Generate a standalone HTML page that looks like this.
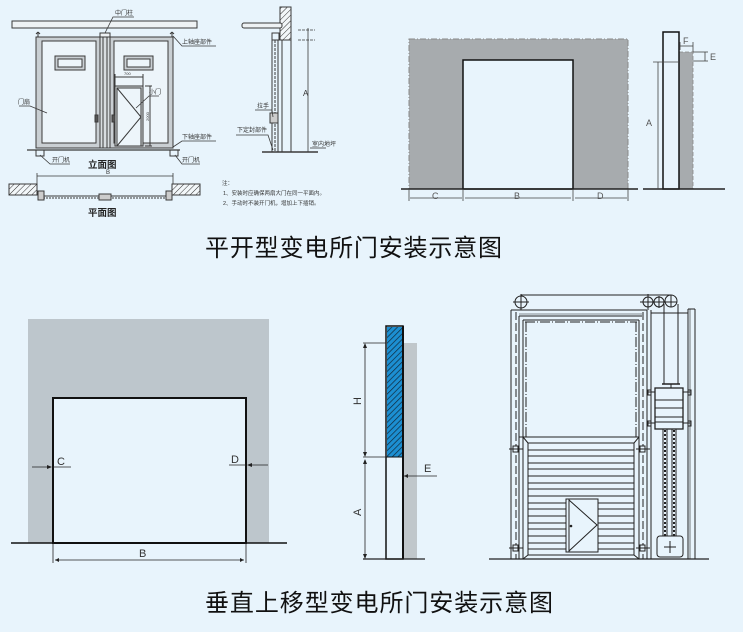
<!DOCTYPE html>
<html><head><meta charset="utf-8"><style>
html,body{margin:0;padding:0;background:#E8F4FC;}
svg{display:block;}
text{font-family:"Liberation Sans","Noto Sans CJK SC",sans-serif;}
</style></head><body>
<svg width="743" height="632" viewBox="0 0 743 632" xmlns="http://www.w3.org/2000/svg">
<defs>
<pattern id="hb" width="4" height="4" patternUnits="userSpaceOnUse" patternTransform="rotate(45)">
<rect width="4" height="4" fill="#1C8FD2"/>
<line x1="0" y1="0" x2="0" y2="4" stroke="#10283a" stroke-width="1.4"/>
</pattern>
<pattern id="hw" width="4" height="4" patternUnits="userSpaceOnUse" patternTransform="rotate(45)">
<rect width="4" height="4" fill="#f3f7f9"/>
<line x1="0" y1="0" x2="0" y2="4" stroke="#333" stroke-width="1"/>
</pattern>
</defs>
<rect width="743" height="632" fill="#E8F4FC"/>

<!-- ============ TOP LEFT: elevation ============ -->
<g stroke="#3a3a3a" stroke-width="1" fill="none">
<rect x="12" y="21" width="185" height="7" fill="#eef2f4"/>
<!-- left door -->
<rect x="36" y="37" width="64" height="111" fill="#c9cfd3"/>
<rect x="42" y="41" width="54" height="102" fill="#EDF5FA"/>
<rect x="95" y="115" width="3" height="7" fill="#555"/>
<line x1="38" y1="32" x2="38" y2="37"/><line x1="36" y1="34" x2="38" y2="32"/><line x1="40" y1="34" x2="38" y2="32"/>
<!-- central post -->
<rect x="100" y="33" width="10" height="4" fill="#eef2f4"/>
<rect x="100" y="37" width="10" height="111" fill="#d8dde0"/>
<line x1="103" y1="37" x2="103" y2="148"/><line x1="107" y1="37" x2="107" y2="148"/>
<!-- right door -->
<rect x="110" y="37" width="63" height="111" fill="#c9cfd3"/>
<rect x="114" y="41" width="54" height="102" fill="#EDF5FA"/>
<rect x="112" y="115" width="3" height="7" fill="#555"/>
<line x1="172" y1="32" x2="172" y2="37"/><line x1="170" y1="34" x2="172" y2="32"/><line x1="174" y1="34" x2="172" y2="32"/>
<!-- windows -->
<rect x="55" y="56" width="30" height="14" fill="#c9cfd3"/>
<rect x="58" y="59" width="24" height="8" fill="#EDF5FA"/>
<rect x="124" y="56" width="29" height="14" fill="#c9cfd3"/>
<rect x="127" y="59" width="23" height="8" fill="#EDF5FA"/>
<!-- small door -->
<rect x="115" y="86" width="28" height="60" fill="#d8dde0"/>
<rect x="117" y="88" width="24" height="58" fill="#EDF5FA"/>
<polyline points="117,88 141,117 117,146"/>
<line x1="115" y1="77" x2="143" y2="77"/><line x1="115" y1="74" x2="115" y2="86"/><line x1="143" y1="74" x2="143" y2="86"/>
<line x1="150" y1="86" x2="150" y2="146"/><line x1="145" y1="86" x2="152" y2="86"/><line x1="145" y1="146" x2="152" y2="146"/>
<!-- ground -->
<line x1="27" y1="150" x2="180" y2="150" stroke-width="1.2"/>
<rect x="36" y="150" width="8" height="6"/>
<rect x="170" y="150" width="8" height="6"/>
<!-- leaders -->
<polyline points="105,33 113,17 134,17" stroke-width="0.8"/>
<polyline points="173,36 182,46 216,46" stroke-width="0.8"/>
<polyline points="19,106 30,106 47,113" stroke-width="0.8"/>
<polyline points="159,96 149,96 136,108" stroke-width="0.8"/>
<polyline points="173,147 182,141 216,141" stroke-width="0.8"/>
<polyline points="40,155 50,164 70,164" stroke-width="0.8"/>
<polyline points="175,155 182,164 200,164" stroke-width="0.8"/>
<!-- plan -->
<line x1="37" y1="176" x2="173" y2="176" stroke-width="0.8"/>
<line x1="37" y1="173" x2="37" y2="186" stroke-width="0.8"/>
<line x1="173" y1="173" x2="173" y2="186" stroke-width="0.8"/>
<rect x="9" y="184" width="28" height="11" fill="url(#hw)"/>
<rect x="172" y="184" width="28" height="11" fill="url(#hw)"/>
<line x1="40" y1="196" x2="170" y2="196"/>
<line x1="40" y1="198" x2="170" y2="198" stroke-dasharray="2 1"/>
<rect x="38" y="191" width="6" height="9" fill="#ccc"/>
<rect x="166" y="191" width="6" height="9" fill="#ccc"/>
<rect x="99" y="194" width="12" height="6" fill="#ccc"/>
</g>
<g fill="#333" font-size="6">
<text x="115" y="15">中门柱</text>
<text x="182" y="44">上轴座部件</text>
<text x="18" y="104">门扇</text>
<text x="149" y="94">小门</text>
<text x="182" y="139">下轴座部件</text>
<text x="52" y="162">开门机</text>
<text x="182" y="162">开门机</text>
<text x="106" y="174">B</text>
<text x="124" y="75" font-size="4">700</text>
<text x="149" y="121" font-size="4" transform="rotate(-90 149 121)">2000</text>
<text x="222" y="185" font-size="5.5">注：</text>
<text x="223" y="195" font-size="5.5">1、安装时应确保两扇大门在同一平面内。</text>
<text x="223" y="205" font-size="5.5">2、手动时不装开门机，增加上下插销。</text>
</g>
<g fill="#222" font-size="9.5" font-weight="bold">
<text x="88" y="168">立面图</text>
<text x="88" y="216">平面图</text>
</g>

<!-- ============ TOP MIDDLE: section ============ -->
<g stroke="#3a3a3a" stroke-width="1" fill="none">
<rect x="280" y="7" width="11" height="33" fill="url(#hw)"/>
<rect x="242" y="23" width="40" height="5" rx="2" fill="#eef2f4"/>
<line x1="291" y1="40" x2="291" y2="152"/>
<line x1="282" y1="40" x2="282" y2="152"/>
<rect x="272" y="33" width="7" height="7"/>
<line x1="272" y1="40" x2="272" y2="152"/>
<line x1="275" y1="40" x2="275" y2="152" stroke-dasharray="3 1"/>
<line x1="278" y1="40" x2="278" y2="152"/>
<rect x="270" y="113" width="8" height="10" fill="#ccc"/>
<line x1="262" y1="152" x2="318" y2="152" stroke-width="1.4"/>
<line x1="308" y1="40" x2="308" y2="152" stroke-width="0.8"/>
<line x1="298" y1="30" x2="315" y2="30" stroke-width="0.8" stroke-dasharray="3 1"/>
<line x1="298" y1="40" x2="315" y2="40" stroke-width="0.8" stroke-dasharray="3 1"/>
<line x1="308" y1="28" x2="308" y2="40" stroke-width="0.8"/>
<polyline points="255,110 272,110 273,117" stroke-width="0.8"/>
<polyline points="236,135 268,135 273,150" stroke-width="0.8"/>
<line x1="310" y1="148" x2="326" y2="148" stroke-width="0.8"/>
</g>
<g fill="#333" font-size="6">
<text x="303" y="96" font-size="8">A</text>
<text x="257" y="108">拉手</text>
<text x="237" y="132">下定封部件</text>
<text x="312" y="146">室内地坪</text>
</g>

<!-- ============ TOP RIGHT ============ -->
<rect x="409" y="39" width="219" height="150" fill="#A7ABAE" stroke="#888" stroke-width="1" stroke-dasharray="6 2 1 2"/>
<rect x="463" y="60" width="110" height="129" fill="#E8F4FC" stroke="#111" stroke-width="1.5"/>
<line x1="401" y1="189" x2="638" y2="189" stroke="#222" stroke-width="1.5"/>
<g stroke="#444" stroke-width="0.8">
<line x1="409" y1="189" x2="409" y2="201"/><line x1="463" y1="189" x2="463" y2="201"/>
<line x1="573" y1="189" x2="573" y2="201"/><line x1="628" y1="189" x2="628" y2="201"/>
<line x1="410" y1="198" x2="462" y2="198"/><line x1="465" y1="198" x2="571" y2="198"/><line x1="575" y1="198" x2="627" y2="198"/>
</g>
<g fill="#555" font-size="9">
<text x="432" y="199">C</text><text x="514" y="199">B</text><text x="597" y="199">D</text>
</g>
<rect x="679" y="52" width="14" height="137" fill="#A7ABAE" stroke="#888" stroke-width="0.8" stroke-dasharray="4 2"/>
<rect x="663" y="32" width="16" height="157" fill="#E8F4FC" stroke="#111" stroke-width="1.5"/>
<line x1="643" y1="189" x2="725" y2="189" stroke="#222" stroke-width="1.5"/>
<g stroke="#444" stroke-width="0.8">
<line x1="653" y1="62" x2="679" y2="62"/>
<line x1="658" y1="62" x2="658" y2="189"/>
<line x1="680" y1="46" x2="693" y2="46"/>
<line x1="680" y1="42" x2="680" y2="50"/><line x1="693" y1="42" x2="693" y2="52"/>
<line x1="693" y1="52" x2="708" y2="52"/><line x1="693" y1="61" x2="708" y2="61"/>
<line x1="705" y1="52" x2="705" y2="61"/>
</g>
<g fill="#555" font-size="9">
<text x="646" y="126">A</text><text x="683" y="44">F</text><text x="710" y="60">E</text>
</g>

<!-- ============ BOTTOM LEFT ============ -->
<rect x="28" y="319" width="241" height="224" fill="#BDC6CC"/>
<rect x="53" y="398" width="193" height="145" fill="#E8F4FC" stroke="#111" stroke-width="2"/>
<line x1="11" y1="543" x2="287" y2="543" stroke="#111" stroke-width="1.5"/>
<g stroke="#222" stroke-width="0.8">
<line x1="53" y1="543" x2="53" y2="563"/><line x1="246" y1="543" x2="246" y2="563"/>
<line x1="55" y1="560" x2="244" y2="560"/>
<line x1="53" y1="467" x2="71" y2="467"/>
<line x1="32" y1="467" x2="51" y2="467"/>
<line x1="229" y1="465" x2="246" y2="465"/>
<line x1="249" y1="465" x2="268" y2="465"/>
</g>
<polygon points="52,467 47,465 47,469" fill="#222"/>
<polygon points="247,465 252,463 252,467" fill="#222"/>
<polygon points="55,560 59,558 59,562" fill="#222"/>
<polygon points="244,560 240,558 240,562" fill="#222"/>
<g fill="#333" font-size="11">
<text x="57" y="465">C</text><text x="231" y="463">D</text><text x="139" y="557">B</text>
</g>

<!-- ============ BOTTOM MIDDLE ============ -->
<rect x="403" y="343" width="14" height="216" fill="#C0C7CB"/>
<rect x="386" y="326" width="17" height="233" fill="#E8F4FC" stroke="#111" stroke-width="1.5"/>
<rect x="387" y="327" width="15" height="130" fill="url(#hb)"/>
<line x1="386" y1="457" x2="403" y2="457" stroke="#111" stroke-width="1"/>
<line x1="403" y1="326" x2="403" y2="559" stroke="#111" stroke-width="2"/>
<g stroke="#222" stroke-width="0.8">
<line x1="363" y1="343" x2="386" y2="343"/>
<line x1="363" y1="457" x2="386" y2="457"/>
<line x1="365" y1="344" x2="365" y2="456"/>
<line x1="365" y1="460" x2="365" y2="558"/>
<line x1="363" y1="559" x2="425" y2="559" stroke-width="1.2"/>
<line x1="404" y1="476" x2="437" y2="476"/>
</g>
<polygon points="365,343 363,348 367,348" fill="#222"/>
<polygon points="365,457 363,452 367,452" fill="#222"/>
<polygon points="365,459 363,464 367,464" fill="#222"/>
<polygon points="365,559 363,554 367,554" fill="#222"/>
<polygon points="404,476 408,474 408,478" fill="#222"/>
<g fill="#333" font-size="11">
<text x="0" y="0" transform="translate(361,405) rotate(-90)">H</text>
<text x="0" y="0" transform="translate(361,516) rotate(-90)">A</text>
<text x="424" y="472">E</text>
</g>

<!-- ============ BOTTOM RIGHT ============ -->
<g stroke="#222" stroke-width="1" fill="none">
<line x1="489" y1="559" x2="709" y2="559" stroke-width="1.2"/>
<!-- left post -->
<line x1="511" y1="310" x2="511" y2="559"/>
<line x1="519" y1="316" x2="519" y2="559"/>
<line x1="516" y1="312" x2="516" y2="559" stroke-dasharray="8 3"/>
<!-- top beam -->
<line x1="511" y1="310" x2="647" y2="310"/>
<line x1="519" y1="316" x2="642" y2="316"/>
<line x1="519" y1="314" x2="642" y2="314" stroke-width="0.6"/>
<!-- inner frame -->
<line x1="523" y1="320" x2="639" y2="320"/>
<line x1="523" y1="320" x2="523" y2="559"/>
<line x1="525" y1="322" x2="637" y2="322" stroke-dasharray="10 2 1 2"/>
<line x1="526" y1="322" x2="526" y2="437" stroke-dasharray="10 2 1 2"/>
<line x1="639" y1="320" x2="639" y2="559"/>
<line x1="636" y1="322" x2="636" y2="437" stroke-dasharray="10 2 1 2"/>
<line x1="643" y1="312" x2="643" y2="559" stroke-dasharray="8 3"/>
<line x1="647" y1="310" x2="647" y2="559"/>
<line x1="651" y1="310" x2="651" y2="559"/>
<!-- pulleys and cable -->
<line x1="521" y1="295" x2="671" y2="295"/>
<circle cx="521" cy="302" r="6"/>
<line x1="513" y1="302" x2="529" y2="302"/><line x1="521" y1="294" x2="521" y2="310"/>
<circle cx="648" cy="302" r="5"/>
<circle cx="659" cy="302" r="5"/>
<circle cx="671" cy="301" r="6"/>
<line x1="640" y1="302" x2="677" y2="302"/>
<line x1="648" y1="294" x2="648" y2="310"/><line x1="659" y1="296" x2="659" y2="308"/><line x1="671" y1="295" x2="671" y2="307"/>
<!-- right post -->
<line x1="651" y1="313" x2="688" y2="313"/>
<line x1="688" y1="309" x2="688" y2="559"/>
<line x1="690" y1="309" x2="690" y2="559" stroke-width="0.6"/>
<line x1="695" y1="309" x2="695" y2="559"/>
<line x1="688" y1="309" x2="695" y2="309"/>
<!-- counterweight cables -->
<line x1="664" y1="304" x2="664" y2="384"/>
<line x1="678" y1="304" x2="678" y2="384"/>
<line x1="662" y1="384" x2="680" y2="384" stroke-width="1.5"/>
<line x1="671" y1="384" x2="671" y2="388"/>
<rect x="655" y="388" width="28" height="41" fill="#E8F4FC" stroke-width="1.3"/>
<line x1="655" y1="400" x2="683" y2="400"/><line x1="655" y1="408" x2="683" y2="408"/>
<line x1="655" y1="417" x2="683" y2="417"/><line x1="655" y1="422" x2="683" y2="422"/>
<line x1="648" y1="392" x2="655" y2="392"/><line x1="683" y1="392" x2="690" y2="392"/>
<line x1="648" y1="423" x2="655" y2="423"/><line x1="683" y1="423" x2="690" y2="423"/>
<rect x="648" y="390" width="3" height="5"/><rect x="688" y="390" width="3" height="5"/>
<rect x="648" y="421" width="3" height="5"/><rect x="688" y="421" width="3" height="5"/>
<!-- rails -->
<line x1="663" y1="429" x2="663" y2="536"/><line x1="667" y1="429" x2="667" y2="536"/>
<line x1="672" y1="429" x2="672" y2="536"/><line x1="676" y1="429" x2="676" y2="536"/>
<line x1="665" y1="430" x2="665" y2="536" stroke-dasharray="2 2" stroke-width="2"/>
<line x1="674" y1="430" x2="674" y2="536" stroke-dasharray="2 2" stroke-width="2"/>
<!-- motor -->
<rect x="657" y="536" width="26" height="21" rx="3"/>
<line x1="664" y1="547" x2="676" y2="547"/><line x1="670" y1="541" x2="670" y2="553"/>
<!-- door -->
<line x1="519" y1="437" x2="639" y2="437"/>
<line x1="523" y1="437" x2="528" y2="443"/><line x1="639" y1="437" x2="634" y2="443"/>
<line x1="528" y1="443" x2="528" y2="555"/><line x1="634" y1="443" x2="634" y2="555"/>
<line x1="528" y1="555" x2="523" y2="559"/><line x1="634" y1="555" x2="639" y2="559"/>
</g>
<g stroke="#222" stroke-width="1.1">
<line x1="528" y1="443" x2="634" y2="443"/><line x1="528" y1="450" x2="634" y2="450"/>
<line x1="528" y1="456" x2="634" y2="456"/><line x1="528" y1="463" x2="634" y2="463"/>
<line x1="528" y1="469" x2="634" y2="469"/><line x1="528" y1="476" x2="634" y2="476"/>
<line x1="528" y1="483" x2="634" y2="483"/><line x1="528" y1="489" x2="634" y2="489"/>
<line x1="528" y1="496" x2="634" y2="496"/><line x1="528" y1="503" x2="634" y2="503"/>
<line x1="528" y1="509" x2="634" y2="509"/><line x1="528" y1="516" x2="634" y2="516"/>
<line x1="528" y1="523" x2="634" y2="523"/><line x1="528" y1="529" x2="634" y2="529"/>
<line x1="528" y1="536" x2="634" y2="536"/><line x1="528" y1="543" x2="634" y2="543"/>
<line x1="528" y1="549" x2="634" y2="549"/><line x1="528" y1="555" x2="634" y2="555"/>
</g>
<g stroke="#222" stroke-width="1" fill="#E8F4FC">
<rect x="566" y="499" width="32" height="53"/>
<line x1="569" y1="499" x2="569" y2="552"/>
<polyline points="569,500 597,525 569,551" fill="none"/>
<rect x="513" y="446" width="5" height="6"/><rect x="513" y="545" width="5" height="6"/>
<rect x="640" y="446" width="5" height="6"/><rect x="640" y="545" width="5" height="6"/>
<line x1="509" y1="449" x2="523" y2="449"/><line x1="509" y1="548" x2="523" y2="548"/>
<line x1="636" y1="449" x2="650" y2="449"/><line x1="636" y1="548" x2="650" y2="548"/>
</g>
<circle cx="571" cy="526" r="1.3" fill="#222"/>

<!-- ============ TITLES ============ -->
<text x="205" y="256" font-size="24" fill="#111" textLength="297" lengthAdjust="spacing">平开型变电所门安装示意图</text>
<text x="205" y="611" font-size="24" fill="#111" textLength="348" lengthAdjust="spacing">垂直上移型变电所门安装示意图</text>
</svg>
</body></html>
